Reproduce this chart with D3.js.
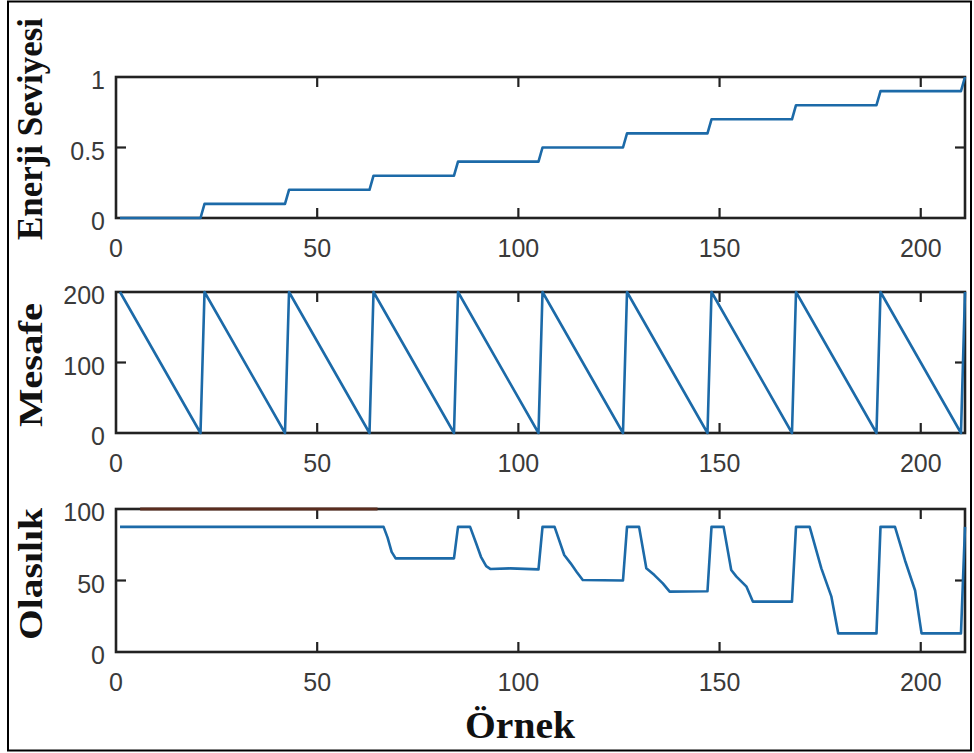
<!DOCTYPE html>
<html>
<head>
<meta charset="utf-8">
<style>
  html, body { margin: 0; padding: 0; background: #fff; }
  svg { display: block; }
</style>
</head>
<body>
<svg width="974" height="753"></svg>
<script src="https://d3js.org/d3.v7.min.js"></script>
<script>

// sample axis
var xTicks = [0, 50, 100, 150, 200];
var xMax = 211;

// Enerji Seviyesi (step vertices)
var energyX = [1, 21, 22, 42, 43, 63, 64, 84, 85, 105, 106, 126, 127, 147, 148, 168, 169, 189, 190, 210, 211];
var energyY = [0, 0, 0.1, 0.1, 0.2, 0.2, 0.3, 0.3, 0.4, 0.4, 0.5, 0.5, 0.6, 0.6, 0.7, 0.7, 0.8, 0.8, 0.9, 0.9, 1.0];
var energyTicks = [0, 0.5, 1];

// Mesafe (sawtooth vertices)
var distX = [1, 21, 22, 42, 43, 63, 64, 84, 85, 105, 106, 126, 127, 147, 148, 168, 169, 189, 190, 210, 211];
var distY = [200, 0, 200, 0, 200, 0, 200, 0, 200, 0, 200, 0, 200, 0, 200, 0, 200, 0, 200, 0, 200];
var distTicks = [0, 100, 200];

// Olasilik
var probX = [1, 66.5, 67.5, 68.5, 69.5, 84, 85, 88, 89.5, 90.7, 92, 93.1, 98, 105,
             106, 109, 111.4, 113, 114.5, 116, 126,
             127, 130, 131.8, 133.8, 135.9, 137.6, 147,
             148, 151, 152.9, 154.2, 156.7, 158.3, 168,
             169, 172.4, 175.3, 177.8, 179.5, 189,
             190, 193.6, 196.1, 198.6, 200.2, 210, 211];
var probY = [87.5, 87.5, 80, 70, 65.5, 65.5, 87.5, 87.5, 76, 66.6, 60, 58, 58.5, 57.8,
             87.5, 87.5, 67.8, 62, 56, 50.3, 50,
             87.5, 87.5, 58.5, 53.8, 48, 42.2, 42.5,
             87.5, 87.5, 57.3, 52.7, 45.7, 35.2, 35.2,
             87.5, 87.5, 58.5, 38.7, 13, 13,
             87.5, 87.5, 64, 43, 13, 13, 87.5];
var refX = [6, 65];
var refY = [100, 100];
var probTicks = [0, 50, 100];

var panels = [
  { label: "Enerji Seviyesi", top: 77, bottom: 218, domain: [0, 1], ticks: energyTicks,
    fmt: d3.format("~g"), lx: 42, ly: 129, lsize: 35, llen: 222,
    series: [{ x: energyX, y: energyY, color: "#1c6aa8", w: 2.6 }] },
  { label: "Mesafe", top: 292, bottom: 433, domain: [0, 200], ticks: distTicks,
    fmt: d3.format("d"), lx: 42, ly: 365, lsize: 34, llen: 124,
    series: [{ x: distX, y: distY, color: "#1c6aa8", w: 2.6 }] },
  { label: "Olasılık", top: 509, bottom: 652, domain: [0, 100], ticks: probTicks,
    fmt: d3.format("d"), lx: 42, ly: 574, lsize: 34, llen: 132,
    series: [{ x: probX, y: probY, color: "#1c6aa8", w: 2.6 }, { x: refX, y: refY, color: "#5a2d1e", w: 3 }] }
];

var svg = d3.select("svg");
var left = 116, right = 965;
var axisColor = "#222";

var x = d3.scaleLinear().domain([0, xMax]).range([left, right]);

// outer frame
svg.append("rect")
    .attr("x", 8).attr("y", 1.5)
    .attr("width", 963).attr("height", 749)
    .attr("fill", "none").attr("stroke", "#000").attr("stroke-width", 2);

panels.forEach(function(p) {
  var y = d3.scaleLinear().domain(p.domain).range([p.bottom, p.top]);
  var g = svg.append("g");

  var line = d3.line()
      .x(function(d) { return x(d[0]); })
      .y(function(d) { return y(d[1]); });

  // box
  g.append("rect")
      .attr("x", left).attr("y", p.top)
      .attr("width", right - left).attr("height", p.bottom - p.top)
      .attr("fill", "none").attr("stroke", axisColor).attr("stroke-width", 2.6);

  // inner ticks
  xTicks.slice(1).forEach(function(t) {
    g.append("line").attr("x1", x(t)).attr("x2", x(t))
        .attr("y1", p.bottom).attr("y2", p.bottom - 10)
        .attr("stroke", axisColor).attr("stroke-width", 2.2);
    g.append("line").attr("x1", x(t)).attr("x2", x(t))
        .attr("y1", p.top).attr("y2", p.top + 10)
        .attr("stroke", axisColor).attr("stroke-width", 2.2);
  });
  p.ticks.slice(1, -1).forEach(function(t) {
    g.append("line").attr("x1", left).attr("x2", left + 10)
        .attr("y1", y(t)).attr("y2", y(t))
        .attr("stroke", axisColor).attr("stroke-width", 2.2);
    g.append("line").attr("x1", right).attr("x2", right - 10)
        .attr("y1", y(t)).attr("y2", y(t))
        .attr("stroke", axisColor).attr("stroke-width", 2.2);
  });

  // series
  p.series.forEach(function(s) {
    g.append("path")
        .datum(d3.zip(s.x, s.y))
        .attr("d", line)
        .attr("fill", "none")
        .attr("stroke", s.color)
        .attr("stroke-width", s.w)
        .attr("stroke-linejoin", "round");
  });

  // tick labels
  g.selectAll(".xt")
    .data(xTicks)
    .enter().append("text")
      .attr("x", function(d) { return x(d); })
      .attr("y", p.bottom + 39)
      .attr("text-anchor", "middle")
      .attr("font-family", "Liberation Sans, Arial, sans-serif")
      .attr("font-size", 25)
      .attr("fill", "#3a3a3a")
      .text(function(d) { return d; });

  g.selectAll(".yt")
    .data(p.ticks)
    .enter().append("text")
      .attr("x", 105)
      .attr("y", function(d) { return y(d) + 12; })
      .attr("text-anchor", "end")
      .attr("font-family", "Liberation Sans, Arial, sans-serif")
      .attr("font-size", 25)
      .attr("fill", "#3a3a3a")
      .text(function(d) { return p.fmt(d); });

  // y label
  g.append("text")
      .attr("transform", "translate(" + p.lx + "," + p.ly + ") rotate(-90)")
      .attr("text-anchor", "middle")
      .attr("font-family", "Liberation Serif, Times New Roman, serif")
      .attr("font-weight", "bold")
      .attr("font-size", p.lsize)
      .attr("textLength", p.llen)
      .attr("lengthAdjust", "spacingAndGlyphs")
      .attr("fill", "#111")
      .text(p.label);
});

svg.append("text")
    .attr("x", 520)
    .attr("y", 738)
    .attr("text-anchor", "middle")
    .attr("font-family", "Liberation Serif, Times New Roman, serif")
    .attr("font-weight", "bold")
    .attr("font-size", 38)
    .attr("textLength", 110)
    .attr("lengthAdjust", "spacingAndGlyphs")
    .attr("fill", "#111")
    .text("Örnek");

</script>
</body>
</html>
